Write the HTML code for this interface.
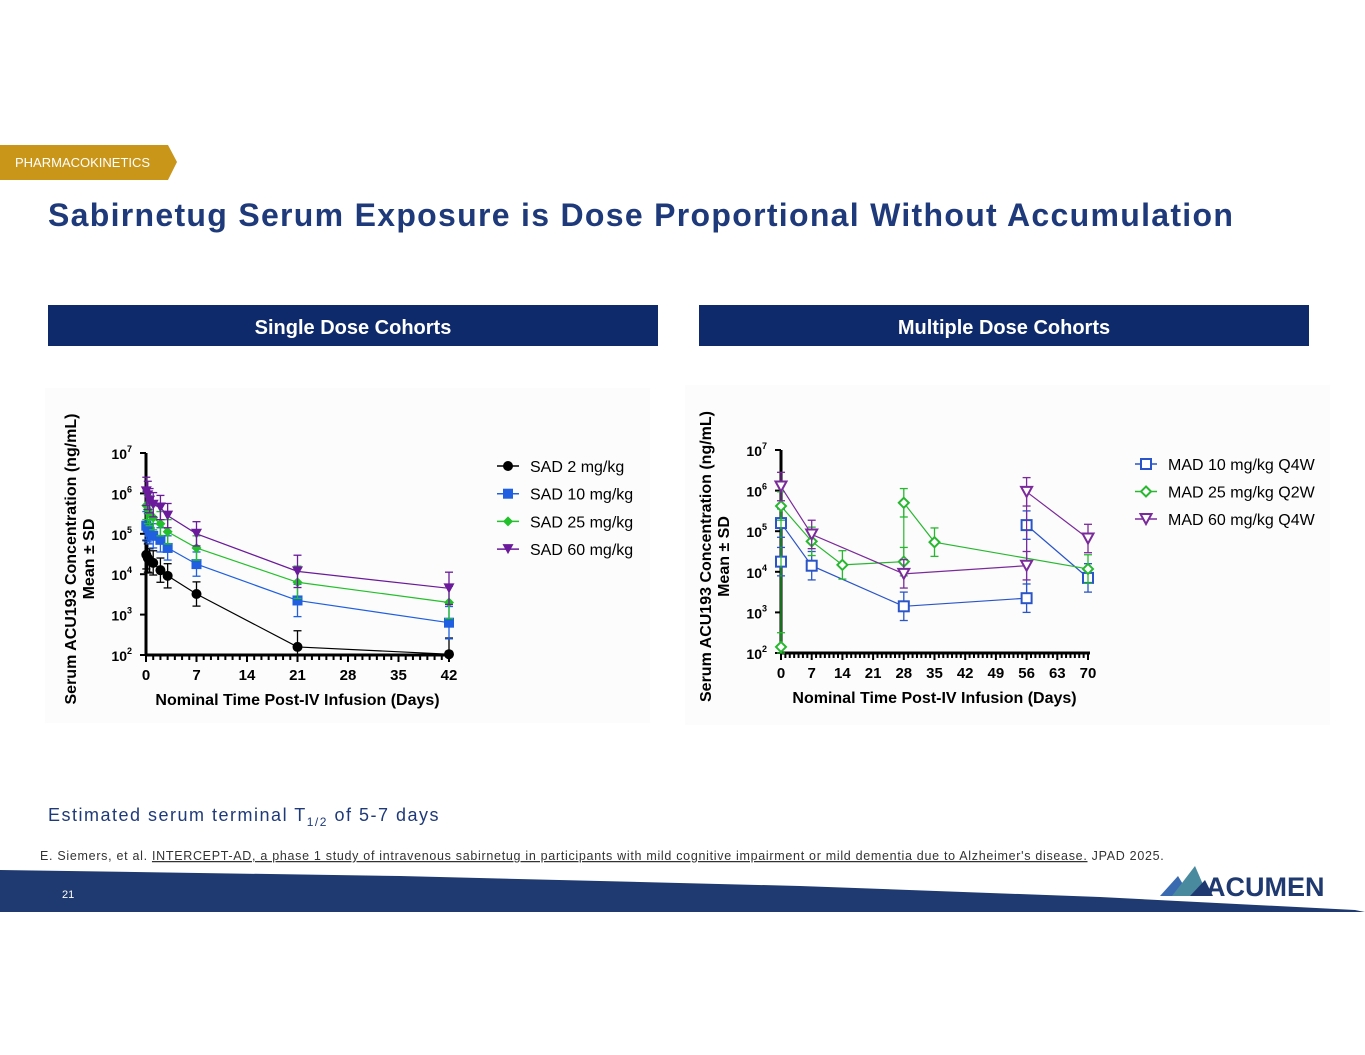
<!DOCTYPE html>
<html><head><meta charset="utf-8"><style>
body{margin:0;background:#fff;font-family:"Liberation Sans",sans-serif}
svg{display:block}
</style></head><body>
<svg id="page" width="1365" height="1055" viewBox="0 0 1365 1055" xmlns="http://www.w3.org/2000/svg">
<polygon points="0,145 168,145 177,162 168,180 0,180" fill="#c9961a"/>
<text x="15" y="167" font-size="13" fill="#fff">PHARMACOKINETICS</text>
<text x="48" y="226" font-size="32" font-weight="bold" fill="#1f3a7a" letter-spacing="1.3">Sabirnetug Serum Exposure is Dose Proportional Without Accumulation</text>
<rect x="48" y="305" width="610" height="41" fill="#0f2a6b"/>
<text x="353" y="334" font-size="20" font-weight="bold" fill="#fff" text-anchor="middle">Single Dose Cohorts</text>
<rect x="699" y="305" width="610" height="41" fill="#0f2a6b"/>
<text x="1004" y="334" font-size="20" font-weight="bold" fill="#fff" text-anchor="middle">Multiple Dose Cohorts</text>
<rect x="45" y="388" width="605" height="335" fill="#fcfcfc"/>
<rect x="685" y="385" width="645" height="340" fill="#fcfcfc"/>
<g id="left"></g>
<g id="right"></g>
<text x="48" y="821" font-size="18" fill="#1f3a7a" letter-spacing="1.5">Estimated serum terminal T<tspan font-size="12" dy="5">1/2</tspan><tspan dy="-5"> of 5-7 days</tspan></text>
<text x="40" y="860" font-size="12.5" fill="#333" letter-spacing="0.7">E. Siemers, et al. <tspan text-decoration="underline">INTERCEPT-AD, a phase 1 study of intravenous sabirnetug in participants with mild cognitive impairment or mild dementia due to Alzheimer's disease.</tspan> JPAD 2025.</text>
<polygon points="0,870 400,876 800,886 1100,897 1355,910 1365,912 0,912" fill="#1f3a70"/>
<text x="62" y="898" font-size="11" fill="#fff">21</text>
<g>
<polygon points="1160,896 1178,876 1190,896" fill="#3a6bb0"/>
<polygon points="1172,896 1195,866 1208,896" fill="#4a8a9e"/>
<polygon points="1190,896 1205,880 1213,896" fill="#1f3a70"/>
<text x="1206" y="896" font-size="27" fill="#1f3a70" font-weight="bold">ACUMEN</text>
</g>
</svg>
<script>
const NS="http://www.w3.org/2000/svg";
// Single dose data (log10 ng/mL)
const sadTimes=[0.04,0.25,0.5,1,2,3,7,21,42];
const sad2=[4.48,4.4,4.33,4.28,4.1,3.96,3.51,2.2,2.02];
const sad10=[5.2,5.15,5.05,4.95,4.85,4.65,4.25,3.35,2.8];
const sad25=[5.7,5.6,5.5,5.4,5.25,5.05,4.65,3.8,3.3];
const sad60=[6.05,5.95,5.82,5.72,5.65,5.45,5.0,4.07,3.65];
const sadSD=[0.35,0.35,0.3,0.3,0.3,0.3,0.3,0.4,0.4];
const sadNames=["SAD 2 mg/kg","SAD 10 mg/kg","SAD 25 mg/kg","SAD 60 mg/kg"];
// Multiple dose data
const mad10T=[0,0,7,28,56,56,70];
const mad10=[4.25,5.2,4.15,3.15,3.35,5.15,3.85];
const mad25T=[0,0,7,14,28,28,35,70];
const mad25=[2.15,5.62,4.75,4.17,4.25,5.7,4.73,4.07];
const mad60T=[0,7,28,56,56,70];
const mad60=[6.1,4.92,3.95,4.15,5.97,4.82];
const madSD=0.35;
const madNames=["MAD 10 mg/kg Q4W","MAD 25 mg/kg Q2W","MAD 60 mg/kg Q4W"];
const xTicksL=[0,7,14,21,28,35,42];
const xTicksR=[0,7,14,21,28,35,42,49,56,63,70];
const yTicks=[2,3,4,5,6,7];

function el(p,t,a){const e=document.createElementNS(NS,t);for(const k in a)e.setAttribute(k,a[k]);p.appendChild(e);return e;}
function marker(g,shape,x,y,c,fill){
 let m;
 if(shape==="circle")m=el(g,"circle",{cx:x,cy:y,r:5,fill:c});
 else if(shape==="square")m=el(g,"rect",{x:x-5,y:y-5,width:10,height:10,fill:fill?c:"#fff",stroke:c,"stroke-width":fill?0:2});
 else if(shape==="diamond")m=el(g,"polygon",{points:`${x},${y-5} ${x+5},${y} ${x},${y+5} ${x-5},${y}`,fill:fill?c:"#fff",stroke:c,"stroke-width":fill?0:2});
 else m=el(g,"polygon",{points:`${x-5.5},${y-5} ${x+5.5},${y-5} ${x},${y+5}`,fill:fill?c:"#fff",stroke:c,"stroke-width":fill?0:2});
 
 
}
function axes(g,x0,x1,y0,y1,xmax,xticks,minor){
 const X=v=>x0+(x1-x0)*v/xmax, Y=v=>y0-(y0-y1)*(v-2)/5;
 el(g,"line",{x1:x0,y1:y1,x2:x0,y2:y0+1,stroke:"#000","stroke-width":3});
 el(g,"line",{x1:x0,y1:y0,x2:x1+2,y2:y0,stroke:"#000","stroke-width":3});
 yTicks.forEach(t=>{el(g,"line",{x1:x0-6,y1:Y(t),x2:x0,y2:Y(t),stroke:"#000","stroke-width":2});
  const tx=el(g,"text",{x:x0-14,y:Y(t)+6,"font-size":14,"font-weight":"bold","text-anchor":"end"});tx.textContent="10";
  const s=el(tx,"tspan",{dy:-7,"font-size":9});s.textContent=t;
  });
 for(let d=0;d<=xmax;d+=minor)el(g,"line",{x1:X(d),y1:y0,x2:X(d),y2:y0+(d%7===0?7:5),stroke:"#000","stroke-width":2});
 xticks.forEach(t=>{const tx=el(g,"text",{x:X(t),y:y0+25,"font-size":15,"font-weight":"bold","text-anchor":"middle"});tx.textContent=t;
  });
 const xt=el(g,"text",{x:(x0+x1)/2,y:y0+50,"font-size":16,"font-weight":"bold","text-anchor":"middle"});xt.textContent="Nominal Time Post-IV Infusion (Days)";
 
 const yt=el(g,"text",{transform:`translate(${x0-70},${(y0+y1)/2+5}) rotate(-90)`,"font-size":16,"font-weight":"bold","text-anchor":"middle"});
 yt.textContent="Serum ACU193 Concentration (ng/mL)";
 
 const yt2=el(g,"text",{transform:`translate(${x0-52},${(y0+y1)/2+5}) rotate(-90)`,"font-size":16,"font-weight":"bold","text-anchor":"middle"});
 yt2.textContent="Mean ± SD";
 
 return [X,Y];
}
function series(g,X,Y,ts,vs,sd,c,shape,fill,name){
 const sg=el(g,"g",{});
 
 
 ts.forEach((t,i)=>{const s=Array.isArray(sd)?sd[i]:sd;const lo=Math.max(2,vs[i]-s);
  el(sg,"line",{x1:X(t),y1:Y(vs[i]+s),x2:X(t),y2:Y(lo),stroke:c,"stroke-width":1.3});
  el(sg,"line",{x1:X(t)-4,y1:Y(vs[i]+s),x2:X(t)+4,y2:Y(vs[i]+s),stroke:c,"stroke-width":1.3});
  el(sg,"line",{x1:X(t)-4,y1:Y(lo),x2:X(t)+4,y2:Y(lo),stroke:c,"stroke-width":1.3});});
 el(sg,"polyline",{points:ts.map((t,i)=>X(t)+","+Y(vs[i])).join(" "),fill:"none",stroke:c,"stroke-width":1.2});
 ts.forEach((t,i)=>marker(sg,shape,X(t),Y(vs[i]),c,fill));
}
function legend(g,x,y,step,names,cols,shapes,fill){
 names.forEach((n,i)=>{const lg=el(g,"g",{});
  
  el(lg,"line",{x1:x,y1:y+i*step,x2:x+22,y2:y+i*step,stroke:cols[i],"stroke-width":1.5});
  marker(lg,shapes[i],x+11,y+i*step,cols[i],fill);
  const t=el(lg,"text",{x:x+33,y:y+i*step+6,"font-size":16});t.textContent=n;});
}
const L=document.getElementById("left");
const [XL,YL]=axes(L,146,449,655,453,42,xTicksL,1);
const cols=["#000","#1f5fe0","#22c02a","#6a1a9a"];
const shp=["circle","square","diamond","triangle"];
[sad2,sad10,sad25,sad60].forEach((v,i)=>series(L,XL,YL,sadTimes,v,sadSD,cols[i],shp[i],true,"series-"+sadNames[i].replace(/[ \/]/g,"-").toLowerCase()));
legend(L,497,466,27.7,sadNames,cols,shp,true);
const R=document.getElementById("right");
const [XR,YR]=axes(R,781,1088,653,450,70,xTicksR,1);
const colsR=["#2a55c8","#28b830","#7a2a9a"];
const shpR=["square","diamond","triangle"];
series(R,XR,YR,mad10T,mad10,madSD,colsR[0],"square",false,"series-mad-10");
series(R,XR,YR,mad25T,mad25,madSD,colsR[1],"diamond",false,"series-mad-25");
series(R,XR,YR,mad60T,mad60,madSD,colsR[2],"triangle",false,"series-mad-60");
legend(R,1135,464,27.5,madNames,colsR,shpR,false);
</script>
</body></html>
